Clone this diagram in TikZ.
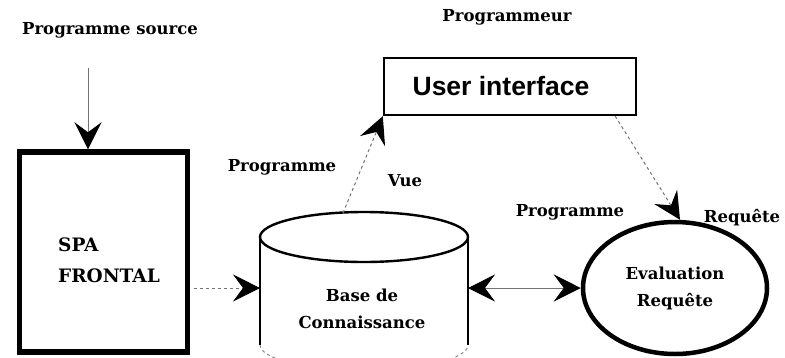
\documentclass[tikz,border=0pt]{standalone}
\usepackage{fontspec}
\setmainfont{DejaVu Serif}
\setsansfont{Liberation Sans}
\usetikzlibrary{arrows.meta,shapes.geometric}
\tikzset{
  lbl/.style={font=\bfseries\fontsize{16.5}{27}\selectfont, inner sep=0pt},
  headtip/.tip={Stealth[length=27pt,width=27pt,inset=10pt,color=black]},
  conn/.style={draw=black!55, line width=1pt, -headtip},
  conn2/.style={draw=black!55, line width=1pt, headtip-headtip},
}
\begin{document}
\begin{tikzpicture}[x=1pt,y=-1pt]
\useasboundingbox (0,0) rectangle (785,357);
\clip (0,0) rectangle (785,357);
% labels
\node[lbl] (src) at (110,30) {Programme source};
\node[lbl] (progmr) at (507,17) {Programmeur};
\node[lbl] (lprog1) at (282,167) {Programme};
\node[lbl] (lvue) at (405,181) {Vue};
\node[lbl] (lprog2) at (570,212) {Programme};
\node[lbl] (lreq) at (742,218) {Requête};
% SPA box
\node[draw, line width=5.5pt, minimum width=168pt, minimum height=200pt, inner sep=0pt] (spa) at (103.5,252) {};
\node[font=\bfseries\fontsize{18.5}{31}\selectfont, inner sep=0pt, align=left, anchor=west] (spatext) at (58,260) {SPA\\FRONTAL};
% user interface
\node[draw, line width=2.4pt, minimum width=252pt, minimum height=57pt, inner sep=0pt,
      font=\sffamily\bfseries\fontsize{26.5}{30}\selectfont] (ui) at (510,86.5) {\hspace*{-18pt}User interface};
% cylinder
\draw[line width=2.4pt] (364,237) ellipse [x radius=104, y radius=25];
\draw[line width=2.4pt] (260,237) -- (260,345);
\draw[line width=2.4pt] (468,237) -- (468,345);
\draw[line width=1pt, black!45, dashed] (260,345) arc[start angle=180, end angle=0, x radius=104, y radius=25];
\node[minimum width=208pt, minimum height=150pt, inner sep=0pt, outer sep=0pt] (kb) at (364,288) {};
\node[lbl, align=center] (kbtext) at (362,309) {Base de\\Connaissance};
% evaluation
\node[ellipse, draw, line width=4.5pt, minimum width=184pt, minimum height=132pt, inner sep=0pt,
      lbl, align=center] (eval) at (675,288) {Evaluation\\Requête};
% connectors
\coordinate (srcend) at (88,68);
\draw[conn] (srcend) -- (srcend |- spa.north);
\draw[conn, dashed] ([xshift=4pt]spa.east |- kb.west) -- (kb.west);
\draw[conn, dashed] ([xshift=-21pt]kb.north) -- (ui.south west);
\draw[conn, dashed] ([xshift=-22pt]ui.south east) -- ([xshift=5pt]eval.north);
\draw[conn2] (kb.east) -- (eval.west);
\end{tikzpicture}
\end{document}
